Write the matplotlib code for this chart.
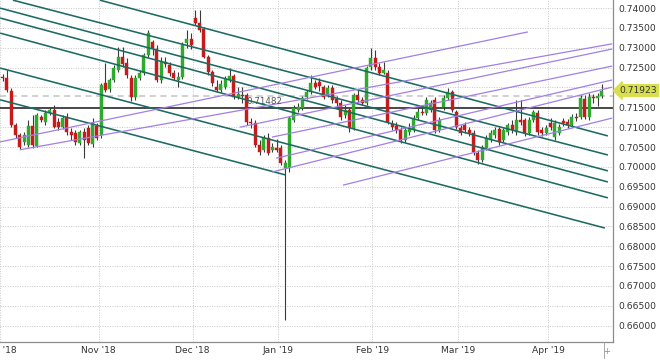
import matplotlib
matplotlib.use('Agg')
import matplotlib.pyplot as plt
from matplotlib.lines import Line2D
import numpy as np

# daily candles, bar index 0..140 (Oct 2018 - Apr 2019)
opens = [.7226, .7224, .7191, .7106, .7080, .7063, .7055, .7103, .7053, .7126,
         .7113, .7136, .7143, .7113, .7100, .7126, .7088, .7085, .7060, .7088,
         .7098, .7058, .7103, .7080, .7211, .7196, .7219, .7244, .7277, .7262,
         .7224, .7176, .7224, .7237, .7282, .7315, .7297, .7219, .7264, .7257,
         .7237, .7219, .7226, .7312, .7322, .7375, .7362, .7347, .7277, .7239,
         .7201, .7194, .7201, .7219, .7229, .7176, .7181, .7181, .7113, .7111,
         .7055, .7042, .7073, .7042, .7048, .7048, .6997, .6997, .7118, .7143,
         .7148, .7176, .7189, .7211, .7214, .7201, .7181, .7199, .7171, .7161,
         .7131, .7143, .7098, .7181, .7169, .7161, .7252, .7274, .7252, .7237,
         .7237, .7108, .7103, .7093, .7068, .7088, .7093, .7123, .7138, .7136,
         .7143, .7169, .7093, .7151, .7174, .7189, .7138, .7098, .7106, .7093,
         .7085, .7035, .7017, .7048, .7068, .7080, .7095, .7068, .7088, .7106,
         .7088, .7118, .7118, .7085, .7118, .7136, .7093, .7085, .7111, .7075,
         .7085, .7116, .7113, .7106, .7126, .7126, .7171, .7126, .7176, .7174,
         .7179]
highs = [.7234, .7244, .7199, .7111, .7085, .7088, .7118, .7131, .7136, .7131,
         .7143, .7151, .7156, .7123, .7131, .7136, .7098, .7093, .7093, .7098,
         .7106, .7123, .7111, .7211, .7262, .7224, .7257, .7302, .7302, .7274,
         .7231, .7231, .7244, .7287, .7345, .7320, .7307, .7277, .7277, .7264,
         .7244, .7239, .7315, .7345, .7337, .7395, .7395, .7352, .7282, .7244,
         .7219, .7219, .7229, .7249, .7234, .7201, .7201, .7186, .7123, .7118,
         .7068, .7080, .7085, .7060, .7070, .7055, .7017, .7128, .7156, .7161,
         .7179, .7194, .7231, .7219, .7224, .7206, .7206, .7206, .7179, .7169,
         .7156, .7148, .7186, .7194, .7176, .7254, .7300, .7294, .7262, .7264,
         .7244, .7118, .7113, .7100, .7100, .7111, .7131, .7148, .7156, .7176,
         .7169, .7176, .7126, .7181, .7199, .7194, .7143, .7106, .7113, .7100,
         .7093, .7042, .7055, .7080, .7093, .7100, .7100, .7098, .7111, .7118,
         .7169, .7169, .7123, .7126, .7143, .7143, .7100, .7106, .7123, .7118,
         .7108, .7123, .7121, .7133, .7136, .7181, .7181, .7186, .7184, .7186,
         .7209]
lows = [.7216, .7189, .7100, .7073, .7045, .7055, .7050, .7048, .7050, .7113,
        .7106, .7131, .7098, .7093, .7095, .7080, .7068, .7055, .7055, .7022,
        .7055, .7050, .7068, .7073, .7189, .7189, .7214, .7239, .7252, .7224,
        .7166, .7169, .7219, .7231, .7277, .7282, .7214, .7211, .7252, .7229,
        .7219, .7201, .7221, .7300, .7297, .7357, .7340, .7274, .7231, .7204,
        .7189, .7189, .7196, .7214, .7171, .7171, .7161, .7106, .7098, .7050,
        .7030, .7037, .7030, .7037, .7037, .7005, .6614, .6987, .7113, .7138,
        .7143, .7171, .7184, .7196, .7191, .7171, .7176, .7161, .7151, .7118,
        .7123, .7088, .7093, .7163, .7156, .7156, .7244, .7244, .7231, .7234,
        .7108, .7093, .7085, .7060, .7063, .7080, .7088, .7118, .7131, .7131,
        .7138, .7085, .7088, .7143, .7169, .7138, .7095, .7080, .7085, .7078,
        .7030, .7007, .7012, .7042, .7063, .7073, .7055, .7063, .7080, .7085,
        .7080, .7106, .7078, .7080, .7113, .7080, .7078, .7080, .7093, .7068,
        .7080, .7103, .7098, .7100, .7116, .7121, .7121, .7118, .7161, .7153,
        .7174]
closes = [.7224, .7194, .7106, .7080, .7050, .7080, .7103, .7055, .7131, .7118,
          .7136, .7143, .7100, .7100, .7123, .7088, .7080, .7063, .7088, .7068,
          .7060, .7111, .7073, .7206, .7194, .7219, .7249, .7277, .7259, .7231,
          .7176, .7224, .7237, .7282, .7337, .7300, .7219, .7264, .7259, .7237,
          .7224, .7226, .7307, .7322, .7307, .7362, .7345, .7277, .7239, .7211,
          .7194, .7209, .7221, .7229, .7176, .7184, .7179, .7113, .7111, .7055,
          .7037, .7073, .7035, .7050, .7042, .7010, .7010, .7123, .7148, .7151,
          .7174, .7189, .7211, .7201, .7204, .7176, .7199, .7169, .7161, .7126,
          .7143, .7098, .7181, .7169, .7161, .7249, .7274, .7252, .7237, .7244,
          .7113, .7100, .7093, .7068, .7093, .7098, .7123, .7138, .7136, .7169,
          .7161, .7093, .7118, .7174, .7189, .7143, .7100, .7085, .7093, .7085,
          .7037, .7017, .7050, .7073, .7085, .7093, .7063, .7093, .7106, .7093,
          .7118, .7113, .7085, .7118, .7138, .7088, .7085, .7098, .7100, .7111,
          .7100, .7111, .7106, .7126, .7123, .7174, .7126, .7176, .7174, .7179,
          .7192]

month_labels = ["Oct '18", "Nov '18", "Dec '18", "Jan '19", "Feb '19", "Mar '19", "Apr '19"]
month_first_bar = [0, 23, 45, 65, 87, 107, 128]

last_price = 0.71923
level_price = 0.71482
dashed_price = 0.7179

# drawn trend lines: (bar0, price0, bar1, price1)
teal_lines = [
    (22.7, .7420, 141.4, .7078),
    (2.4, .7420, 141.4, .7030),
    (-0.6, .7400, 141.4, .6990),
    (-0.6, .7375, 141.4, .6962),
    (-0.6, .7337, 141.4, .6922),
    (-0.6, .7249, 140.7, .6846),
    (-0.6, .7169, 66.0, .6980),
]
purple_lines = [
    (-0.6, .7063, 122.7, .7340),
    (4.0, .7043, 142.4, .7310),
    (55.4, .7100, 142.4, .7297),
    (62.9, .7075, 142.4, .7254),
    (63.9, .7022, 142.4, .7219),
    (62.9, .6987, 142.4, .7201),
    (79.5, .6954, 142.4, .7123),
]

fig = plt.figure(figsize=(6.6, 3.6), dpi=100)
ax = fig.add_axes([0, 0.05, 612.7 / 660, 0.95])

idx = np.arange(len(opens))
o = np.array(opens)
c = np.array(closes)
up = c >= o
body_lo = np.minimum(o, c)
body_h = np.maximum(np.abs(c - o), 0.00015)

ax.vlines(idx, lows, highs, color='#3a3a3a', lw=0.8, zorder=3)
ax.bar(idx[up], body_h[up], bottom=body_lo[up], width=0.7, color='#2eab2e', edgecolor='#2eab2e', lw=0.3, zorder=4)
ax.bar(idx[~up], body_h[~up], bottom=body_lo[~up], width=0.7, color='#c81a1a', edgecolor='#c81a1a', lw=0.3, zorder=4)

for x0, y0, x1, y1 in teal_lines:
    ax.plot([x0, x1], [y0, y1], color='#1c6b63', lw=1.15, zorder=5, solid_capstyle='butt')
for x0, y0, x1, y1 in purple_lines:
    ax.plot([x0, x1], [y0, y1], color='#a27ee6', lw=0.9, zorder=5, solid_capstyle='butt')

ax.axhline(level_price, color='#2b2b2b', lw=1.2, zorder=2)
ax.axhline(dashed_price, color='#c4c4c4', lw=1.1, ls=(0, (4, 3)), zorder=2)
ax.text(57.0, 0.7164, '0.71482', fontsize=6.3, color='#555555', va='center', ha='left', zorder=6)

ax.set_xlim(-0.63, 142.52)
ax.set_ylim(0.65589, 0.74204)

yt = np.round(np.arange(0.660, 0.7401, 0.005), 3)
ax.set_yticks(yt)
ax.set_yticklabels(['' if abs(v - 0.72) < 1e-6 else '%.5f' % v for v in yt])
ax.yaxis.tick_right()
ax.tick_params(axis='y', length=0, pad=4, labelsize=6.6, labelcolor='#333333')
ax.set_xticks([m - 0.6 for m in month_first_bar])
ax.set_xticklabels(month_labels)
ax.tick_params(axis='x', length=0, pad=3, labelsize=6.6, labelcolor='#333333')
ax.grid(True, color='#c8c8c8', ls=(0, (1, 1.5)), lw=0.7)
ax.set_axisbelow(True)
for s in ['top', 'left']:
    ax.spines[s].set_visible(False)
for s in ['right', 'bottom']:
    ax.spines[s].set_color('#8c8c8c')
    ax.spines[s].set_linewidth(0.9)

ax.annotate('%.5f' % last_price, xy=(1.0, last_price), xycoords=('axes fraction', 'data'),
            xytext=(5, 0), textcoords='offset points', fontsize=6.6, color='#333333',
            va='center', ha='left', annotation_clip=False,
            bbox=dict(boxstyle='larrow,pad=0.15', fc='#d9df4c', ec='#d9df4c'))

fig.add_artist(Line2D([604 / 660, 604 / 660], [2 / 360, 18 / 360], color='#999999', lw=0.6))
fig.text(607 / 660, 8 / 360, '+', fontsize=6, color='#888888', ha='center', va='center')

fig.savefig('out.png', dpi=100)
